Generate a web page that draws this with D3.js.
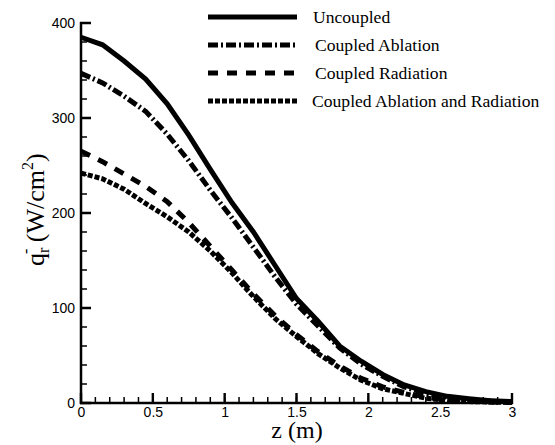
<!DOCTYPE html>
<html><head><meta charset="utf-8">
<script src="https://cdn.jsdelivr.net/npm/d3@7"></script>
<style>body{margin:0;background:#fff}svg{display:block}</style>
</head><body>
<script>
const zValues = [0,0.15,0.3,0.45,0.6,0.75,0.9,1.05,1.2,1.35,1.5,1.65,1.8,1.95,2.1,2.25,2.4,2.55,2.7,2.85,3.0];
const uncoupled = [385,377,360,341,315,282,246,211,180,145,110,86,60,44,30,19,12,7,4.5,2.5,1.5];
const coupledAblation = [347,337,323,307,283,255,224,195,164,133,104,81,58,41,28,17,10,6,3.5,2,1];
const coupledRadiation = [265,254,241,228,212,190,165,140,115,92,72,54,39,26,17,11,6,3,2,1,0.5];
const coupledBoth = [242,236,225,210,196,180,160,137,112,89,70,52,37,24,15,10,5,2.5,1.5,1,0.5];
const seriesNames = ["Uncoupled","Coupled Ablation","Coupled Radiation","Coupled Ablation and Radiation"];
const xTicks = [0,0.5,1,1.5,2,2.5,3];
const xTickLabels = ["0","0.5","1","1.5","2","2.5","3"];
const yTicks = [0,100,200,300,400];

const W=555,H=445;
const svg=d3.select("body").append("svg").attr("width",W).attr("height",H);
const x=d3.scaleLinear().domain([0,3]).range([81,512]);
const y=d3.scaleLinear().domain([0,400]).range([403,23]);

const styles=[
  {dash:null},
  {dash:"10,3,2,3"},
  {dash:"10,9"},
  {dash:"5,2"}
];
const data=[uncoupled,coupledAblation,coupledRadiation,coupledBoth];
const lineGen=d3.line().x((d,i)=>x(zValues[i])).y(d=>y(d));
data.forEach((s,k)=>{
  svg.append("path").datum(s).attr("d",lineGen).attr("fill","none")
    .attr("stroke","#000").attr("stroke-width",5)
    .attr("stroke-dasharray",styles[k].dash);
});

// minor ticks
const xMinor=d3.range(0,31).map(v=>v/10);
const yMinor=d3.range(0,21).map(v=>v*20);
const tickPath=d3.path();
xMinor.forEach(d=>{tickPath.moveTo(x(d),404);tickPath.lineTo(x(d),397);});
yMinor.forEach(d=>{tickPath.moveTo(80,y(d));tickPath.lineTo(87,y(d));});
svg.append("path").attr("d",tickPath.toString()).attr("fill","none")
  .attr("stroke","#000").attr("stroke-width",1.5);
// major ticks
const majorPath=d3.path();
xTicks.forEach(d=>{majorPath.moveTo(x(d),404);majorPath.lineTo(x(d),393);});
yTicks.forEach(d=>{majorPath.moveTo(80,y(d));majorPath.lineTo(91,y(d));});
svg.append("path").attr("d",majorPath.toString()).attr("fill","none")
  .attr("stroke","#000").attr("stroke-width",2.4);

// tick labels via axes
const gx=svg.append("g").attr("transform","translate(0,403)")
  .call(d3.axisBottom(x).tickValues(xTicks).tickSize(0).tickPadding(3)
  .tickFormat((d,i)=>xTickLabels[i]));
const gy=svg.append("g").attr("transform","translate(81,0)")
  .call(d3.axisLeft(y).tickValues(yTicks).tickSize(0).tickPadding(6));
gx.select(".domain").remove();
gy.select(".domain").remove();
svg.selectAll(".tick line").remove();
svg.selectAll(".tick text").attr("font-family","Liberation Sans, Arial, sans-serif")
  .attr("font-size",14).attr("fill","#000");
gx.selectAll(".tick text").attr("dy","0.78em");
gy.selectAll(".tick text").attr("dy","0.35em");
svg.append("path").attr("d",`M80,403H513M81,22V404`).attr("fill","none").attr("stroke","#000").attr("stroke-width",2.5);

// axis titles
svg.append("text").attr("x",297).attr("y",438).attr("text-anchor","middle")
  .attr("font-family","Liberation Serif, Times New Roman, serif").attr("font-size",24).text("z (m)");
const yt=svg.append("text").attr("transform","translate(44,266) rotate(-90)")
  .attr("font-family","Liberation Serif, Times New Roman, serif").attr("font-size",26);
yt.append("tspan").text("q");
yt.append("tspan").attr("font-size",16).attr("dy",5).text("r");
yt.append("tspan").attr("font-size",16).attr("dx",-6).attr("dy",-18).text("-");
yt.append("tspan").attr("dy",13).text(" (W/cm");
yt.append("tspan").attr("font-size",16).attr("dy",-11).text("2");
yt.append("tspan").attr("dy",11).text(")");

// legend
const ly=[17,45,73,101];
const lx=[313,315,315,312];
seriesNames.forEach((n,k)=>{
  svg.append("line").attr("x1",208).attr("x2",297).attr("y1",ly[k]).attr("y2",ly[k])
    .attr("stroke","#000").attr("stroke-width",5).attr("stroke-dasharray",styles[k].dash);
  svg.append("text").attr("x",lx[k]).attr("y",ly[k]+6)
    .attr("font-family","Liberation Serif, Times New Roman, serif").attr("font-size",17.6).text(n);
});
</script>
</body></html>
